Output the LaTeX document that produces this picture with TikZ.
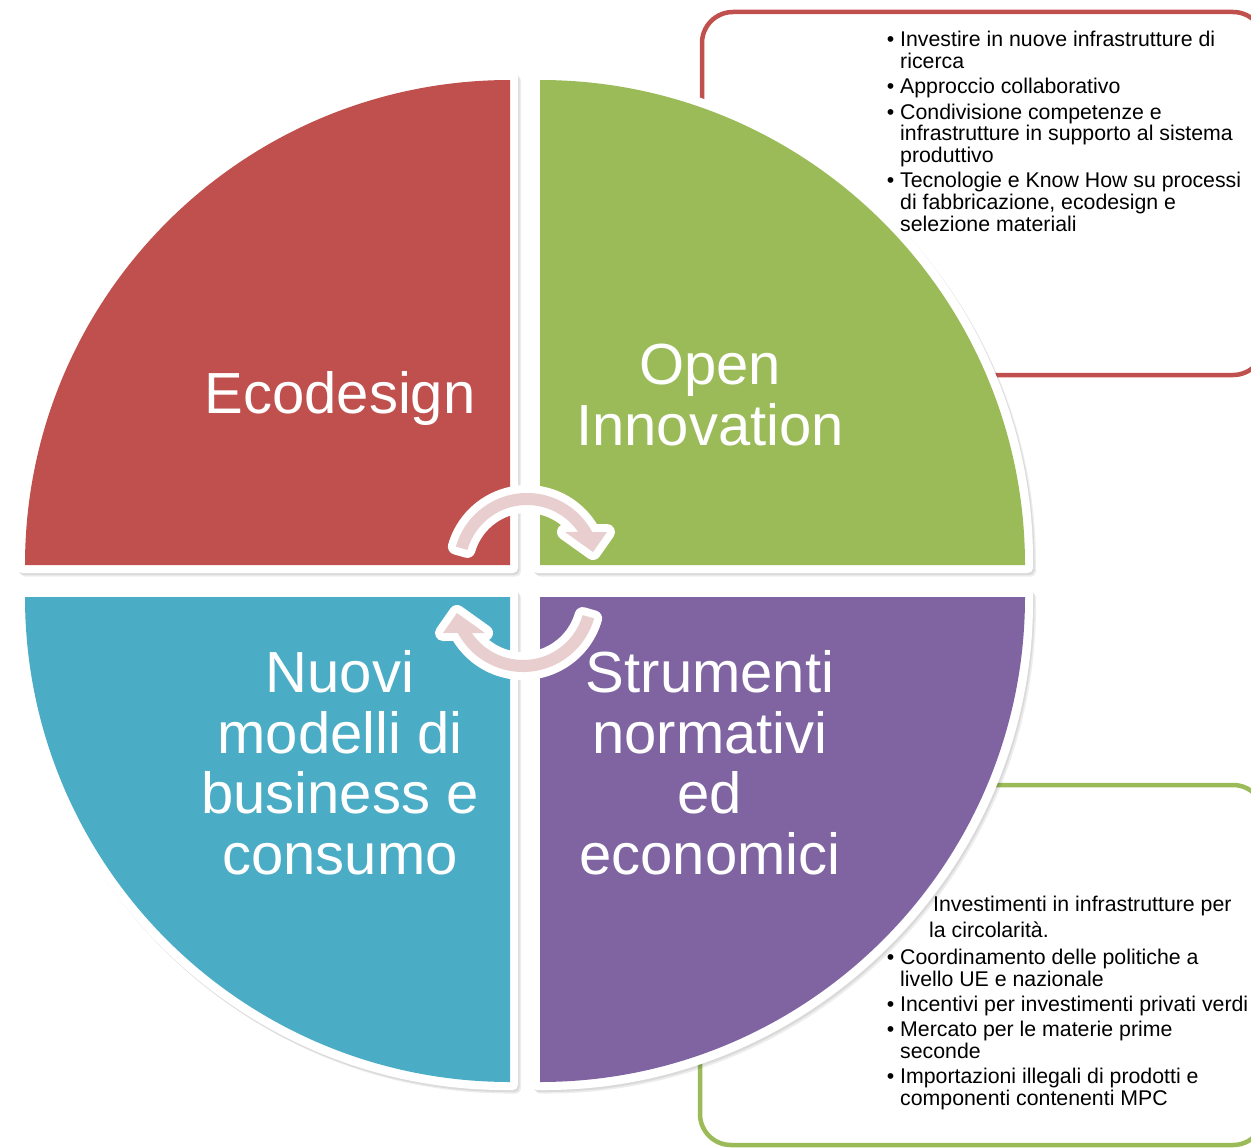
\documentclass[tikz,border=0pt]{standalone}
\usepackage{fontspec}
\setmainfont{Liberation Sans}
\definecolor{qred}{RGB}{192,80,77}
\definecolor{qgreen}{RGB}{155,187,89}
\definecolor{qblue}{RGB}{75,172,198}
\definecolor{qpurple}{RGB}{128,100,162}
\definecolor{apink}{RGB}{232,206,207}
\newcommand\myquadrant[3]{%
  \begin{scope}[xshift=3pt,yshift=-3.5pt]
    \begin{scope}[shift={#1},#2]
      \fill[black,opacity=0.07,rounded corners=5] (8,8) -- (-493,8) -- (-493,0) arc[start angle=180,end angle=270,radius=493] -- (8,-493) -- cycle;
    \end{scope}
  \end{scope}
  \begin{scope}[xshift=1.5pt,yshift=-2pt]
    \begin{scope}[shift={#1},#2]
      \fill[black,opacity=0.08,rounded corners=5] (8,8) -- (-493,8) -- (-493,0) arc[start angle=180,end angle=270,radius=493] -- (8,-493) -- cycle;
    \end{scope}
  \end{scope}
  \begin{scope}[shift={#1},#2]
    \fill[white,rounded corners=5] (8,8) -- (-493,8) -- (-493,0) arc[start angle=180,end angle=270,radius=493] -- (8,-493) -- cycle;
    \fill[#3] (0,0) -- (-485,0) arc[start angle=180,end angle=270,radius=485] -- cycle;
  \end{scope}}
\newcommand\cyclearrow[1]{%
  \begin{scope}[#1]
    \path[fill=apink, preaction={draw=white,line width=16,line join=round}]
      (196:74) arc[start angle=196,end angle=331.8,radius=74]
      -- (80,-35) -- (66,-15) -- (38,-35)
      -- (325.6:62) arc[start angle=325.6,end angle=196,radius=62] -- cycle;
  \end{scope}}
\begin{document}
\begin{tikzpicture}[x=1pt,y=-1pt,
  biglabel/.style={text=white, align=center, inner sep=0,
    font=\fontsize{58}{60.5}\selectfont},
  boxtext/.style={text=black, align=left, inner sep=0,
    font=\fontsize{21.3}{21.7}\selectfont},
  infobox/.style={line width=4.5, rounded corners=31}]
\useasboundingbox (0,0) rectangle (1251,1148);
\fill[white] (0,0) rectangle (1251,1148);

% side boxes
\draw[infobox, draw=qred] (702,12) rectangle (1264,375);
\draw[infobox, draw=qgreen] (700,785) rectangle (1264,1145);

% quadrants
\myquadrant{(510,565)}{}{qred}
\myquadrant{(540,565)}{xscale=-1}{qgreen}
\myquadrant{(510,597)}{yscale=-1}{qblue}
\myquadrant{(540,597)}{xscale=-1,yscale=-1}{qpurple}

% circular arrows
\cyclearrow{shift={(527,567)}}
\cyclearrow{shift={(523,598)},rotate=180}

% quadrant labels (base anchor = baseline of last line)
\node[biglabel, anchor=base] (eco) at (340,413) {Ecodesign};
\node[biglabel, anchor=base] (open) at (710,445) {Open\\Innovation};
\node[biglabel, anchor=base] (nuovi) at (340,874) {Nuovi\\modelli di\\business e\\consumo};
\node[biglabel, anchor=base] (strum) at (710,874) {Strumenti\\normativi\\ed\\economici};

% top box text
\node[boxtext, anchor=base west] (toptext) at (900,231) {%
\llap{•\hspace{6pt}}Investire in nuove infrastrutture di\\
ricerca\\[3.5pt]
\llap{•\hspace{6pt}}Approccio collaborativo\\[3.5pt]
\llap{•\hspace{6pt}}Condivisione competenze e\\
infrastrutture in supporto al sistema\\
produttivo\\[3.5pt]
\llap{•\hspace{6pt}}Tecnologie e Know How su processi\\
di fabbricazione, ecodesign e\\
selezione materiali};

% bottom box text
\node[boxtext, anchor=base west] (bot0) at (933,911) {Investimenti in infrastrutture per};
\node[boxtext, anchor=base west] (bot1) at (929,937) {la circolarità.};
\node[boxtext, anchor=base west] (bot2) at (900,1105) {%
\llap{•\hspace{6pt}}Coordinamento delle politiche a\\
livello UE e nazionale\\[3.5pt]
\llap{•\hspace{6pt}}Incentivi per investimenti privati verdi\\[3.5pt]
\llap{•\hspace{6pt}}Mercato per le materie prime\\
seconde\\[3.5pt]
\llap{•\hspace{6pt}}Importazioni illegali di prodotti e\\
componenti contenenti MPC};
\end{tikzpicture}
\end{document}
